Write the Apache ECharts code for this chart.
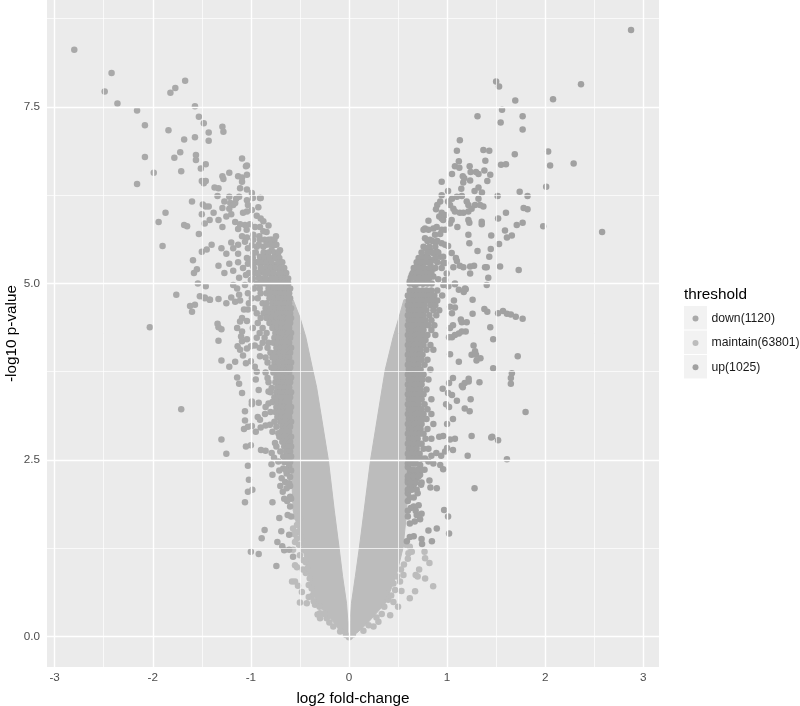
<!DOCTYPE html>
<html><head><meta charset="utf-8"><style>html,body{margin:0;background:#fff}#c{width:800px;height:706px}</style>
<script src="https://cdn.jsdelivr.net/npm/echarts@6/dist/echarts.min.js"></script></head><body><div id="c"></div>
<script>
const xTicks=[-3,-2,-1,0,1,2,3];
const yTicks=[0,2.5,5,7.5];
const xMinor=[-2.5,-1.5,-0.5,0.5,1.5,2.5];
const yMinor=[1.25,3.75,6.25,8.75];
const names=['down(1120)','maintain(63801)','up(1025)'];

// Outline of the solid 'maintain' mass (too dense to read individual points)
const bandY=[0,0.05,0.19,0.47,0.85,1.25,1.79,2.5,3.53,3.78,4.24,4.52,4.77];
const bandLeftOuter=[-0.01,-0.08,-0.15,-0.33,-0.41,-0.47,-0.57,-0.59,-0.59,-0.59,-0.59,-0.59,-0.59];
const bandLeftInner=[-0.01,-0.01,-0.01,-0.025,-0.065,-0.1,-0.15,-0.21,-0.33,-0.37,-0.44,-0.5,-0.57];
const bandRightInner=[0.01,0.01,0.01,0.025,0.065,0.105,0.155,0.22,0.34,0.37,0.45,0.51,0.56];
const bandRightOuter=[0.01,0.08,0.19,0.37,0.48,0.55,0.59,0.59,0.59,0.59,0.59,0.59,0.59];

const maintainPoints=[[-0.55,1.34],[-0.53,1.39],[-0.57,1.53],[-0.53,1.58],[-0.5,1.67],[-0.55,1.01],[-0.53,0.98],[-0.58,0.78],[-0.55,0.78],[-0.52,0.72],[-0.48,0.63],[-0.5,0.48],[-0.43,0.47],[-0.41,0.56],[-0.38,0.57],[-0.41,0.73],[-0.38,0.68],[-0.36,0.61],[-0.32,0.31],[-0.295,0.26],[-0.465,1.08],[-0.57,1.23],[-0.465,1.23],[-0.346,0.45],[-0.295,0.33],[-0.227,0.26],[-0.16,0.14],[-0.09,0.07],[-0.44,0.9],[-0.47,0.95],[-0.4,0.82],[-0.48,1.4],[-0.52,1.48],[-0.5,1.15],[-0.44,1.05],[-0.42,0.97],[-0.36,0.5],[-0.3,0.42],[-0.25,0.32],[-0.2,0.2],[-0.55,1.7],[-0.56,1.45],[-0.51,1.3],
[0.77,1.2],[0.776,1.11],[0.82,1.04],[0.715,0.95],[0.68,0.87],[0.7,0.85],[0.555,0.87],[0.776,0.82],[0.858,0.71],[0.674,0.64],[0.62,0.54],[0.535,0.645],[0.5,0.42],[0.42,0.3],[0.62,1.27],[0.606,1.18],[0.64,1.2],[0.49,0.85],[0.453,0.75],[0.385,0.61],[0.4,0.52],[0.453,0.49],[0.334,0.32],[0.25,0.14],[0.3,0.21],[0.2,0.16],[0.147,0.08],[0.56,1.02],[0.53,0.95],[0.6,1.1],[0.58,1.3],[0.52,0.78],[0.47,0.66],[0.43,0.58],[0.36,0.42],[0.28,0.27],
[-0.59,4.2],[-0.59,3.6],[-0.58,2.8],[0.58,4.6],[0.58,3.8],[0.58,3.1],[0.01,0.0],[-0.03,0.02],[0.04,0.03],[0,-0.01]];

const downPoints=[[-2.8,8.31],[-2.42,7.98],[-2.49,7.72],[-2.36,7.55],[-2.16,7.45],[-2.08,7.24],[-2.08,6.79],[-2.16,6.41],[-1.99,6.57],[-1.84,7.17],[-1.82,7.7],[-1.77,7.77],[-1.67,7.87],[-1.57,7.51],[-1.53,7.36],[-1.48,7.27],[-1.43,7.14],[-1.43,7.02],[-1.57,7.07],[-1.68,7.04],[-1.72,6.86],[-1.78,6.78],[-1.71,6.59],[-1.56,6.82],[-1.56,6.75],[-1.51,6.63],[-1.46,6.69],[-1.29,7.22],[-1.28,7.15],[-1.09,6.77],[-1.05,6.66],[-1.04,6.67],[-1.22,6.57],[-1.29,6.52],[-1.28,6.48],[-1.13,6.52],[-1.09,6.5],[-1.04,6.54],[-1.5,6.45],[-1.46,6.45],[-1.48,6.42],[-1.37,6.36],[-1.33,6.35],[-1.09,6.44],[-1.11,6.35],[-1.04,6.33],[-0.99,6.28],[-0.907,6.21],[-0.98,6.21],[-1.04,6.18],[-1.03,6.11],[-0.924,6.08],[-0.99,6.04],[-1.04,6.02],[-1.08,6.0],[-0.9,6.21],[-1.34,6.24],[-1.22,6.23],[-1.12,6.23],[-1.27,6.16],[-1.21,6.14],[-1.16,6.14],[-1.18,6.11],[-1.6,6.16],[-1.49,6.12],[-1.46,6.09],[-1.43,6.09],[-1.29,6.07],[-1.22,6.06],[-1.15,6.2],
[-1.94,5.87],[-1.87,6.0],[-1.9,5.53],[-2.03,4.38],[-1.71,3.22],[-1.76,4.84],[-1.68,5.83],[-1.65,5.81],[-1.62,4.68],[-1.6,4.6],[-1.57,4.7],[-1.52,4.82],[-1.47,4.8],[-1.42,4.77],[-1.58,5.15],[-1.54,5.0],[-1.59,5.33],[-1.55,5.2],[-1.5,5.45],[-1.45,5.48],[-1.53,5.7],[-1.47,5.85],[-1.42,5.9],[-1.5,5.98],[-1.38,6.0],[-1.33,5.9],[-1.29,5.8],[-1.25,5.95],[-1.2,5.98],
[-0.94,5.96],[-0.9,5.92],[-0.873,5.88],[-0.82,5.82],[-1.16,5.87],[-1.11,5.84],[-1.06,5.83],[-1.01,5.84],[-0.958,5.8],[-1.13,5.77],[-1.043,5.76],[-0.907,5.8],[-0.873,5.74],[-0.84,5.73],[-0.744,5.67],[-0.82,5.62],[-0.788,5.62],[-0.77,5.54],[-0.788,5.47],[-0.703,5.47],[-0.737,5.43],[-0.77,5.36],[-1.09,5.67],[-1.04,5.65],[-0.975,5.69],[-0.914,5.67],[-0.907,5.62],[-0.975,5.62],[-1.06,5.59],[-0.99,5.54],[-0.94,5.52],[-0.873,5.52],[-1.2,5.58],[-1.13,5.55],[-1.18,5.5],[-1.03,5.5],[-0.975,5.43],[-1.13,5.42],[-1.04,5.36],[-0.907,5.38],[-0.84,5.4],
[-1.4,5.55],[-1.3,5.5],[-1.25,5.42],[-1.33,5.25],[-1.27,5.15],[-1.22,5.28],[-1.18,5.18],[-1.13,5.3],[-1.08,5.22],[-1.03,5.28],[-0.98,5.25],[-0.94,5.3],[-0.9,5.28],[-0.86,5.3],[-0.82,5.28],[-0.78,5.27],[-0.74,5.26],[-0.71,5.2],[-1.12,5.08],[-1.05,5.12],[-1.0,5.05],[-0.96,5.15],[-0.92,5.08],[-0.88,5.16],[-0.84,5.06],[-0.8,5.14],[-0.76,5.05],[-0.72,5.12],[-0.68,5.04],[-0.66,5.1],
[-1.46,4.96],[-1.47,4.79],[-1.417,4.77],[-1.33,4.78],[-1.25,4.72],[-1.2,4.8],[-1.16,4.74],[-1.12,4.84],[-1.11,4.76],[-1.18,4.98],[-1.14,4.93],[-1.06,4.98],[-1.07,4.63],[-1.03,4.63],[-1.09,4.51],[-1.11,4.46],[-1.04,4.47],[-1.34,4.43],[-1.33,4.38],[-1.3,4.35],[-1.33,4.19],[-1.14,4.37],[-1.09,4.32],[-1.1,4.25],[-1.09,4.18],[-1.04,4.21],[-1.135,4.11],[-1.11,4.06],[-1.08,3.98],[-1.04,4.08],[-1.0,4.11],[-0.96,4.12],[-1.3,3.91],[-1.22,3.82],[-1.16,3.89],[-1.05,3.87],[-1.0,3.9],[-0.96,3.82],[-0.94,3.75],[-0.907,3.97],[-1.14,3.67],[-1.12,3.58],[-1.09,3.45],[-0.95,3.64],[-0.92,3.49],[-0.99,3.33],[-0.99,3.29],[-0.92,3.31],[-0.82,3.3],[-1.06,3.19],[-1.06,3.06],[-1.07,2.94],[-1.03,2.97],[-0.99,2.98],[-0.93,3.11],[-0.907,3.07],[-0.856,3.15],[-0.9,2.96],[-0.95,2.9],[-0.85,2.99],[-0.805,3.0],[-1.3,2.79],[-1.25,2.59],[-1.05,2.69],[-1.0,2.71],[-0.897,2.64],[-0.85,2.63],[-0.788,2.6],[-0.764,2.53],[-0.754,2.74],[-0.72,2.88],[-0.635,2.63],[-0.83,3.66],[-0.82,3.47],[-0.788,3.52],
[-1.03,2.42],[-0.79,2.44],[-0.78,2.29],[-1.02,2.22],[-1.03,2.05],[-0.985,2.08],[-1.06,1.9],[-0.78,1.9],[-0.71,1.68],[-0.86,1.51],[-0.89,1.39],[-0.69,1.49],[-0.61,1.44],[-0.73,1.34],[-0.68,1.28],[-0.66,1.22],[-0.61,1.23],[-1.0,1.2],[-0.92,1.17],[-0.57,1.13],[-0.74,1.0],[-0.625,1.72],[-0.59,1.7],[-0.6,1.84],[-0.67,2.38],[-0.635,2.31],[-0.686,2.24],[-0.65,2.19],[-0.61,2.17],[-0.6,2.26],[-0.675,2.05],[-0.635,2.1],[-0.61,2.41],[-0.6,1.98],[-0.63,1.92],[-0.72,2.48]];
// Rows of the near-solid 'down' mass: y, then the x positions read along that row
const downRows=[
[5.62,[-0.86,-0.8,-0.76]],[5.55,[-0.92,-0.84,-0.8,-0.74]],[5.44,[-0.95,-0.87,-0.82,-0.76,-0.72]],[5.36,[-0.98,-0.9,-0.86,-0.81,-0.75,-0.71]],[5.3,[-1.0,-0.92,-0.84,-0.79,-0.72,-0.68]],[5.22,[-0.97,-0.9,-0.85,-0.8,-0.75,-0.7,-0.66]],[5.15,[-1.02,-0.93,-0.86,-0.82,-0.77,-0.71,-0.67,-0.64]],[5.07,[-0.98,-0.9,-0.85,-0.79,-0.74,-0.69,-0.65,-0.62]],
[5.0,[-0.94,-0.89,-0.85,-0.8,-0.76,-0.71,-0.66,-0.62]],[4.93,[-0.97,-0.91,-0.82,-0.77,-0.73,-0.68,-0.64,-0.6]],[4.86,[-1.03,-0.9,-0.84,-0.8,-0.75,-0.7,-0.65,-0.61]],[4.79,[-0.99,-0.93,-0.81,-0.76,-0.72,-0.67,-0.63,-0.6]],[4.72,[-1.02,-0.88,-0.84,-0.78,-0.74,-0.69,-0.65,-0.61]],[4.65,[-0.97,-0.85,-0.8,-0.75,-0.71,-0.66,-0.62,-0.59]],[4.58,[-0.94,-0.87,-0.82,-0.77,-0.73,-0.68,-0.64,-0.6]],[4.51,[-0.9,-0.84,-0.79,-0.74,-0.7,-0.66,-0.62,-0.59]],[4.44,[-0.93,-0.81,-0.76,-0.72,-0.67,-0.63,-0.6]],[4.37,[-0.98,-0.88,-0.78,-0.73,-0.69,-0.65,-0.61]],[4.3,[-0.91,-0.84,-0.75,-0.71,-0.66,-0.62,-0.59]],[4.23,[-0.94,-0.86,-0.76,-0.72,-0.68,-0.64,-0.6]],[4.16,[-0.88,-0.82,-0.77,-0.73,-0.69,-0.65,-0.61]],[4.09,[-0.91,-0.83,-0.74,-0.7,-0.66,-0.62,-0.59]],[4.02,[-0.8,-0.75,-0.71,-0.67,-0.63,-0.6]],[3.95,[-0.85,-0.78,-0.73,-0.69,-0.65,-0.61]],[3.88,[-0.83,-0.76,-0.72,-0.67,-0.63,-0.59]],[3.81,[-0.79,-0.74,-0.7,-0.66,-0.62,-0.6]],[3.74,[-0.85,-0.77,-0.72,-0.68,-0.64,-0.61]],[3.67,[-0.74,-0.7,-0.66,-0.63,-0.59]],[3.6,[-0.82,-0.75,-0.71,-0.67,-0.62,-0.6]],[3.53,[-0.73,-0.69,-0.65,-0.61]],[3.46,[-0.8,-0.74,-0.7,-0.66,-0.62,-0.59]],[3.39,[-0.76,-0.72,-0.68,-0.64,-0.6]],[3.32,[-0.78,-0.73,-0.69,-0.65,-0.61]],[3.25,[-0.85,-0.74,-0.7,-0.66,-0.62,-0.59]],[3.18,[-0.8,-0.75,-0.71,-0.67,-0.63,-0.6]],[3.11,[-0.73,-0.69,-0.65,-0.61]],[3.04,[-0.76,-0.7,-0.66,-0.62,-0.59]],[2.97,[-0.74,-0.68,-0.64,-0.6]],[2.9,[-0.78,-0.69,-0.65,-0.61]],[2.83,[-0.71,-0.66,-0.62,-0.59]],[2.76,[-0.68,-0.64,-0.6]],[2.69,[-0.74,-0.66,-0.62,-0.59]],[2.62,[-0.7,-0.64,-0.6]],[2.55,[-0.67,-0.63,-0.59]],[2.47,[-0.66,-0.62,-0.6]],[2.35,[-0.71,-0.64,-0.59]],[2.13,[-0.7,-0.6]],[1.95,[-0.66,-0.59]]];

const upPoints=[[2.875,8.59],[2.365,7.82],[1.5,7.86],[1.53,7.79],[1.695,7.59],[2.08,7.61],[1.56,7.46],[1.31,7.37],[1.77,7.37],[1.546,7.28],[1.77,7.18],[1.13,7.03],[1.1,6.88],[1.37,6.89],[1.43,6.88],[1.69,6.83],[2.03,6.87],[2.05,6.67],[2.29,6.7],[1.39,6.74],[1.55,6.68],[1.6,6.69],[1.12,6.73],[1.08,6.66],[1.125,6.64],[1.23,6.66],[1.24,6.58],[1.38,6.6],[1.295,6.58],[1.32,6.55],[1.44,6.54],[1.05,6.55],[1.16,6.52],[1.175,6.49],[1.165,6.43],[1.235,6.46],[1.41,6.45],[0.945,6.44],[2.01,6.37],[1.74,6.3],[1.82,6.24],[1.515,6.24],[1.78,6.07],[1.32,6.36],[1.28,6.31],[1.355,6.29],[1.145,6.34],[1.32,6.2],[1.01,6.31],[0.945,6.25],[1.15,6.24],[1.1,6.23],[1.05,6.2],
[2.58,5.73],[1.98,5.81],[1.82,6.05],[1.77,5.86],[1.71,5.83],[1.73,5.19],[1.61,5.65],[1.66,5.68],[1.59,5.75],[1.52,4.58],[1.57,4.61],[1.61,4.57],[1.65,4.56],[1.7,4.53],[1.77,4.5],[1.72,3.97],[1.66,3.73],[1.65,3.66],[1.65,3.58],[1.8,3.18],[1.46,2.83],[1.52,2.78],[1.61,2.51],[1.28,2.1],
[0.93,6.16],[0.9,6.11],[0.887,6.05],[1.01,6.16],[1.03,6.11],[1.064,6.06],[1.08,6.02],[1.2,6.16],[1.217,6.11],[1.285,6.11],[1.336,6.11],[1.37,6.09],[1.13,6.0],[1.166,6.0],[1.217,6.02],[1.25,6.06],[1.6,6.0],[1.52,5.92],[0.945,6.0],[0.92,5.95],[0.945,5.92],[0.98,5.97],[0.96,5.9],[1.047,5.9],[1.03,5.85],[1.217,5.9],[1.227,5.86],[1.353,5.875],[1.353,5.84],[0.81,5.89],[1.105,5.8],[0.775,5.78],[0.76,5.76],[0.81,5.76],[0.86,5.78],[0.894,5.8],[0.945,5.76],[0.98,5.76],[1.217,5.69],[1.45,5.68],[1.227,5.57],[1.53,5.56],[1.445,5.49],[1.31,5.46],[1.43,5.38],[0.775,5.64],[0.826,5.62],[0.877,5.69],[0.93,5.7],[0.894,5.59],[0.945,5.57],[0.98,5.55],[1.01,5.53],[0.79,5.5],[0.826,5.47],[0.86,5.43],[0.894,5.45],[0.93,5.38],[0.96,5.38],[0.765,5.38],[0.81,5.36],[0.843,5.33],[1.047,5.43],[1.09,5.36],[1.1,5.32],[0.96,5.29],[0.98,5.29],[0.945,5.22],[1.064,5.23],[1.13,5.25],[1.166,5.23],[1.235,5.24],[1.275,5.25],[1.387,5.23],[1.404,5.23],[1.54,5.24],[0.69,5.24],[0.724,5.26],[0.758,5.29],[0.673,5.19],[0.707,5.17],[0.79,5.21],[0.86,5.21],[0.996,5.14],[1.235,5.14],[1.42,5.08],[1.404,4.98],[0.98,5.05],[0.64,5.12],[0.69,5.07],[0.758,5.1],[0.86,5.1],[0.91,5.06],[0.62,5.03],[0.673,4.98],[0.758,5.0],[0.843,5.0],[0.962,4.98],[1.013,4.96],[1.08,5.0],[1.183,4.93],[0.72,5.14],[0.8,5.16],[0.83,5.27],[0.73,5.03],[0.8,5.05],
[1.08,4.99],[1.12,4.91],[1.19,4.92],[1.17,4.88],[1.26,4.77],[1.07,4.76],[1.38,4.64],[1.41,4.6],[1.26,4.57],[1.03,4.67],[1.08,4.66],[1.05,4.58],[1.14,4.49],[1.15,4.45],[1.2,4.45],[1.06,4.41],[1.03,4.37],[1.44,4.38],[1.47,4.21],[1.19,4.32],[1.15,4.32],[1.12,4.29],[1.08,4.27],[1.05,4.24],[1.02,4.24],[1.27,4.12],[1.285,4.04],[1.25,3.99],[1.295,3.99],[1.34,3.94],[1.3,3.91],[1.12,3.89],[1.03,3.997],[1.47,3.8],[1.06,3.66],[1.02,3.59],[1.22,3.65],[1.22,3.61],[1.18,3.59],[1.15,3.55],[1.16,3.53],[1.33,3.6],[0.955,3.51],[1.01,3.45],[1.05,3.42],[1.1,3.34],[1.24,3.36],[0.99,3.29],[1.02,3.25],[1.18,3.23],[1.23,3.19],[1.06,3.08],[1.0,3.01],[1.25,2.84],[1.45,2.82],[1.03,2.79],[1.08,2.8],[0.96,2.84],[0.92,2.83],[1.06,2.64],[1.0,2.67],[0.98,2.62],[1.21,2.56],[0.94,2.56],[0.89,2.6],[0.84,2.56],[0.775,2.52],
[0.97,1.79],[1.01,1.7],[1.02,1.46],[0.895,1.53],[0.81,1.5],[0.845,1.35],[0.74,1.38],[0.745,1.31],[0.96,2.37],[0.895,2.1],[0.83,2.11],[0.7,2.03],[0.82,2.21],[0.735,2.15],[0.71,1.86],[0.66,1.84],[0.63,1.82],[0.74,1.74],[0.69,1.72],[0.725,1.66],[0.67,1.63],[0.62,1.6],[0.6,1.7],[0.66,1.42],[0.62,1.41],[0.59,1.35],[0.66,2.45],[0.725,2.43],[0.81,2.48],[0.86,2.45],[0.93,2.43],[0.675,2.31],[0.725,2.29],[0.62,2.31],[0.64,2.22],[0.69,2.24],[0.62,2.12],[0.66,2.15],[0.6,2.03],[0.6,2.4],[0.6,2.22],[0.77,2.36],[0.6,1.92]];
// Rows of the near-solid 'up' mass: y, then the x positions read along that row
const upRows=[
[5.6,[0.8,0.85,0.9]],[5.52,[0.76,0.82,0.88]],[5.44,[0.74,0.8,0.85,0.91]],[5.36,[0.71,0.75,0.79,0.88]],[5.3,[0.69,0.73,0.78,0.82,0.9]],[5.22,[0.66,0.71,0.76,0.83,0.88]],[5.15,[0.65,0.69,0.74,0.78,0.84]],[5.08,[0.63,0.67,0.72,0.77,0.82]],[5.0,[0.62,0.65,0.7,0.75,0.8]],
[4.9,[0.62,0.66,0.7,0.75,0.79,0.84,0.9]],[4.83,[0.6,0.64,0.69,0.73,0.78,0.82,0.87,0.95]],[4.76,[0.61,0.65,0.7,0.75,0.8,0.85,0.9]],[4.69,[0.6,0.63,0.68,0.72,0.77,0.83,0.88]],[4.62,[0.61,0.65,0.69,0.74,0.79,0.86,0.92]],[4.55,[0.6,0.64,0.68,0.72,0.76,0.82,0.89]],[4.48,[0.61,0.65,0.7,0.74,0.78,0.84]],[4.41,[0.6,0.63,0.67,0.72,0.77,0.81,0.87]],[4.34,[0.61,0.65,0.69,0.73,0.76,0.84]],[4.27,[0.6,0.64,0.68,0.71,0.75,0.8,0.88]],[4.2,[0.61,0.65,0.69,0.74,0.78]],[4.13,[0.6,0.63,0.67,0.72,0.76,0.83]],[4.06,[0.61,0.65,0.69,0.73,0.79,0.86]],[3.99,[0.6,0.64,0.68,0.72,0.75]],[3.92,[0.61,0.65,0.7,0.74,0.8]],[3.85,[0.6,0.63,0.67,0.71,0.77]],[3.78,[0.61,0.65,0.69,0.73,0.83]],[3.71,[0.6,0.64,0.68,0.72,0.76]],[3.64,[0.61,0.65,0.7,0.75,0.81]],[3.57,[0.6,0.63,0.67,0.71,0.74]],[3.5,[0.61,0.65,0.69,0.73,0.79]],[3.43,[0.6,0.64,0.68,0.72,0.76]],[3.36,[0.61,0.65,0.7,0.74,0.84]],[3.29,[0.6,0.63,0.67,0.71,0.77]],[3.22,[0.61,0.65,0.69,0.74,0.8]],[3.15,[0.6,0.64,0.68,0.72,0.76,0.84]],[3.08,[0.61,0.65,0.7,0.75,0.79]],[3.01,[0.6,0.63,0.67,0.71,0.74,0.86]],[2.94,[0.61,0.65,0.69,0.73,0.8]],[2.87,[0.6,0.64,0.68,0.72,0.76]],[2.8,[0.61,0.65,0.7,0.78,0.84]],[2.73,[0.6,0.63,0.67,0.71,0.74]],[2.66,[0.61,0.65,0.69,0.76,0.81]],[2.59,[0.6,0.64,0.68,0.72]],[2.52,[0.61,0.65,0.7,0.74]],[2.45,[0.6,0.63,0.68]],[2.36,[0.62,0.65,0.7,0.74]],[2.27,[0.6,0.66,0.71]],[2.18,[0.6,0.63,0.68,0.74]],[2.08,[0.6,0.64,0.69]],[1.97,[0.62,0.66]],[1.78,[0.6,0.68]]];

const flatten=rows=>rows.flatMap(([y,xs])=>xs.map(x=>[x,y]));
const gridLines=(vals,key)=>vals.map(v=>({[key]:v}));
const chart=echarts.init(document.getElementById('c'),null,{renderer:'canvas'});
const font='"Liberation Sans",Arial,sans-serif';
const scatter=(name,data,color,z)=>({name,type:'scatter',data,symbolSize:6.5,z,itemStyle:{color,opacity:1},silent:true,animation:false});
chart.setOption({
 animation:false,backgroundColor:'#fff',textStyle:{fontFamily:font},
 grid:{left:47,right:141,top:0,bottom:39,show:true,backgroundColor:'#ebebeb',borderWidth:0,outerBoundsMode:'none'},
 xAxis:{type:'value',min:-3.078,max:3.16,name:'log2 fold-change',nameLocation:'middle',nameGap:24,
  nameTextStyle:{fontSize:15.3,color:'#000',fontFamily:font},
  axisLine:{show:false},splitLine:{show:false},
  axisTick:{show:true,length:3.5,lineStyle:{color:'#333',width:1},customValues:xTicks},
  axisLabel:{color:'#4d4d4d',fontSize:11.7,margin:5,customValues:xTicks,showMinLabel:true,showMaxLabel:true,hideOverlap:false,formatter:v=>String(v)}},
 yAxis:{type:'value',min:-0.432,max:9.015,name:'-log10 p-value',nameLocation:'middle',nameGap:28,nameMoveOverlap:false,
  nameTextStyle:{fontSize:15.3,color:'#000',fontFamily:font},
  axisLine:{show:false},splitLine:{show:false},
  axisTick:{show:true,length:3.5,lineStyle:{color:'#333',width:1},customValues:yTicks},
  axisLabel:{color:'#4d4d4d',fontSize:11.7,margin:7,customValues:yTicks,hideOverlap:false,formatter:v=>v.toFixed(1)}},
 legend:{data:names,orient:'vertical',left:692.5,top:312.5,padding:0,itemWidth:6,itemHeight:6,itemGap:12.4,icon:'circle',selectedMode:false,
  textStyle:{fontSize:12.2,color:'#1a1a1a',fontFamily:font,padding:[0,0,0,8]}},
 graphic:[
  {type:'text',left:684,top:287,style:{text:'threshold',fontSize:15.3,fill:'#000',fontFamily:font}},
  {type:'rect',left:684,top:306,z:0,shape:{width:23,height:23.5},style:{fill:'#f2f2f2'}},
  {type:'rect',left:684,top:330.5,z:0,shape:{width:23,height:23.5},style:{fill:'#f2f2f2'}},
  {type:'rect',left:684,top:355,z:0,shape:{width:23,height:23.5},style:{fill:'#f2f2f2'}}],
 series:[
  {name:'grid',type:'scatter',data:[],z:1,silent:true,
   markLine:{silent:true,symbol:'none',animation:false,label:{show:false},lineStyle:{color:'#fff',width:0.7,type:'solid'},emphasis:{disabled:true},
    data:[...gridLines(xMinor,'xAxis'),...gridLines(yMinor,'yAxis')]}},
  {name:'gridMajor',type:'scatter',data:[],z:1,silent:true,
   markLine:{silent:true,symbol:'none',animation:false,label:{show:false},lineStyle:{color:'#fff',width:1.4,type:'solid'},emphasis:{disabled:true},
    data:[...gridLines(xTicks,'xAxis'),...gridLines(yTicks,'yAxis')]}},
  {name:'maintainBand',type:'custom',z:3,silent:true,data:[[0,0]],clip:true,
   renderItem:(p,api)=>{
    const outline=[];
    bandY.forEach((y,i)=>outline.push(api.coord([bandLeftOuter[i],y])));
    for(let i=bandY.length-1;i>=0;i--)outline.push(api.coord([bandLeftInner[i],bandY[i]]));
    const right=[];
    bandY.forEach((y,i)=>right.push(api.coord([bandRightOuter[i],y])));
    for(let i=bandY.length-1;i>=0;i--)right.push(api.coord([bandRightInner[i],bandY[i]]));
    const st={fill:'#bcbcbc',stroke:'#bcbcbc',lineWidth:1};
    return {type:'group',children:[{type:'polygon',shape:{points:outline},style:st},{type:'polygon',shape:{points:right},style:st}]};
   }},
  scatter(names[1],maintainPoints,'#bcbcbc',3),
  scatter(names[0],downPoints.concat(flatten(downRows)),'#a9a9a9',4),
  scatter(names[2],upPoints.concat(flatten(upRows)),'#a1a1a1',4)]
});
</script></body></html>
